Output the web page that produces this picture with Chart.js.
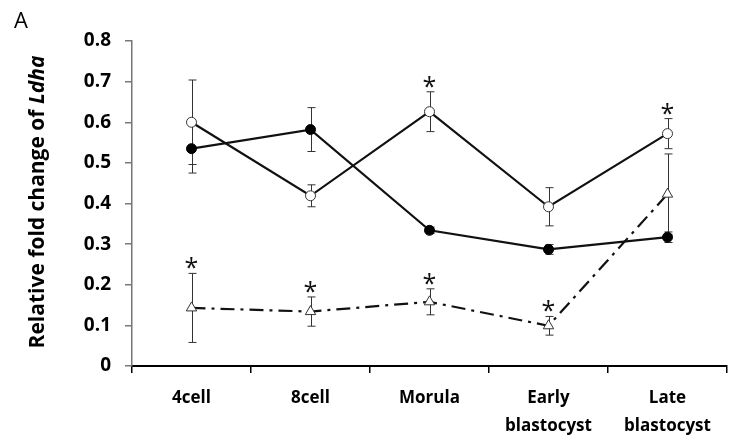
<!DOCTYPE html>
<html>
<head>
<meta charset="utf-8">
<script src="https://cdn.jsdelivr.net/npm/chart.js@4/dist/chart.umd.min.js"></script>
<style>
    body { margin: 0; background: #fff; }
    #grafico { display: block; }
</style>
</head>
<body>
<div style="width:734px;height:441px;">
    <canvas id="grafico" width="734" height="441"></canvas>
</div>
<script>
// dados
const categorias = ['4cell', '8cell', 'Morula', ['Early', 'blastocyst'], ['Late', 'blastocyst']];

const circuloAberto = [0.600, 0.419, 0.626, 0.392, 0.572];
const erroAberto = [0.104, 0.027, 0.049, 0.047, 0.037];

const circuloCheio = [0.535, 0.582, 0.334, 0.287, 0.317];
const erroCheio = [0.060, 0.054, 0.008, 0.012, 0.013];

const triangulo = [0.143, 0.134, 0.158, 0.099, 0.423];
const erroTriangulo = [0.085, 0.036, 0.032, 0.023, 0.099];

// asteriscos de significancia
const asteriscoAberto = [false, false, true, false, true];
const asteriscoTriangulo = [true, true, true, true, false];

const erros = [erroAberto, erroCheio, erroTriangulo];
const asteriscos = [asteriscoAberto, null, asteriscoTriangulo];

const fonte = '"Open Sans", "Noto Sans", sans-serif';

const pluginExtras = {
    id: 'extras',
    beforeDatasetsDraw(chart) {
        const ctx = chart.ctx;
        const escalaY = chart.scales.y;
        ctx.save();
        ctx.strokeStyle = '#333';
        ctx.lineWidth = 1;
        for (let d = 0; d < chart.data.datasets.length; d++) {
            const meta = chart.getDatasetMeta(d);
            const valores = chart.data.datasets[d].data;
            for (let i = 0; i < valores.length; i++) {
                const x = Math.round(meta.data[i].x) + 0.5;
                const yTopo = escalaY.getPixelForValue(valores[i] + erros[d][i]);
                const yBase = escalaY.getPixelForValue(valores[i] - erros[d][i]);
                ctx.beginPath();
                ctx.moveTo(x, yTopo);
                ctx.lineTo(x, yBase);
                ctx.moveTo(x - 4, yTopo);
                ctx.lineTo(x + 4, yTopo);
                ctx.moveTo(x - 4, yBase);
                ctx.lineTo(x + 4, yBase);
                ctx.stroke();
            }
        }
        ctx.restore();
    },
    afterDraw(chart) {
        const ctx = chart.ctx;
        const escalaY = chart.scales.y;
        ctx.save();

        // asteriscos
        ctx.fillStyle = '#111';
        ctx.font = '25px ' + fonte;
        ctx.textAlign = 'center';
        ctx.textBaseline = 'alphabetic';
        for (let d = 0; d < chart.data.datasets.length; d++) {
            if (!asteriscos[d]) continue;
            const meta = chart.getDatasetMeta(d);
            const valores = chart.data.datasets[d].data;
            for (let i = 0; i < valores.length; i++) {
                if (!asteriscos[d][i]) continue;
                const yTopo = escalaY.getPixelForValue(valores[i] + erros[d][i]);
                ctx.fillText('*', meta.data[i].x, yTopo + 3);
            }
        }

        // titulo do eixo y com Ldha em italico
        ctx.fillStyle = '#000';
        ctx.textAlign = 'left';
        ctx.textBaseline = 'middle';
        ctx.translate(38, 202);
        ctx.rotate(-Math.PI / 2);
        const parte1 = 'Relative fold change of ';
        const parte2 = 'Ldha';
        ctx.font = 'bold 21px ' + fonte;
        const larg1 = ctx.measureText(parte1).width;
        ctx.font = 'italic bold 21px ' + fonte;
        const larg2 = ctx.measureText(parte2).width;
        const inicio = -(larg1 + larg2) / 2;
        ctx.font = 'bold 21px ' + fonte;
        ctx.fillText(parte1, inicio, 0);
        ctx.font = 'italic bold 21px ' + fonte;
        ctx.fillText(parte2, inicio + larg1, 0);
        ctx.restore();

        // letra do painel
        ctx.save();
        ctx.fillStyle = '#000';
        ctx.font = '22px ' + fonte;
        ctx.textBaseline = 'alphabetic';
        ctx.fillText('A', 14, 28);
        ctx.restore();
    }
};

const config = {
    type: 'line',
    data: {
        labels: categorias,
        datasets: [
            {
                label: 'aberto',
                data: circuloAberto,
                borderColor: '#111',
                borderWidth: 2.2,
                pointStyle: 'circle',
                pointRadius: 5,
                pointBackgroundColor: '#fff',
                pointBorderColor: '#333',
                pointBorderWidth: 1
            },
            {
                label: 'cheio',
                data: circuloCheio,
                borderColor: '#111',
                borderWidth: 2.2,
                pointStyle: 'circle',
                pointRadius: 5,
                pointBackgroundColor: '#000',
                pointBorderColor: '#000',
                pointBorderWidth: 1
            },
            {
                label: 'triangulo',
                data: triangulo,
                borderColor: '#111',
                borderWidth: 2.2,
                borderDash: [14, 6, 3, 6],
                pointStyle: 'triangle',
                pointRadius: 6,
                pointBackgroundColor: '#fff',
                pointBorderColor: '#333',
                pointBorderWidth: 1
            }
        ]
    },
    options: {
        responsive: false,
        animation: false,
        layout: { padding: { top: 41, left: 0, right: 0, bottom: 0 } },
        plugins: {
            legend: { display: false },
            tooltip: { enabled: false }
        },
        scales: {
            x: {
                offset: true,
                grid: { offset: true, drawOnChartArea: false, tickLength: 7, color: '#000', lineWidth: 1.5 },
                border: { color: '#000', width: 2 },
                ticks: {
                    padding: 12,
                    color: '#000',
                    maxRotation: 0,
                    font: { family: fonte, size: 17, weight: 'bold', lineHeight: 1.6 }
                },
                afterFit(escala) { escala.height = 75; }
            },
            y: {
                min: 0,
                max: 0.8,
                grid: { drawOnChartArea: false, tickLength: 7, color: '#777', lineWidth: 1.5 },
                border: { color: '#777', width: 1.5 },
                ticks: {
                    stepSize: 0.1,
                    padding: 14,
                    color: '#000',
                    font: { family: fonte, size: 19, weight: 'bold' },
                    callback: (v) => v === 0 ? '0' : v.toFixed(1)
                },
                afterFit(escala) { escala.width = 132; }
            }
        }
    },
    plugins: [pluginExtras]
};

new Chart(document.getElementById('grafico').getContext('2d'), config);
</script>
</body>
</html>
